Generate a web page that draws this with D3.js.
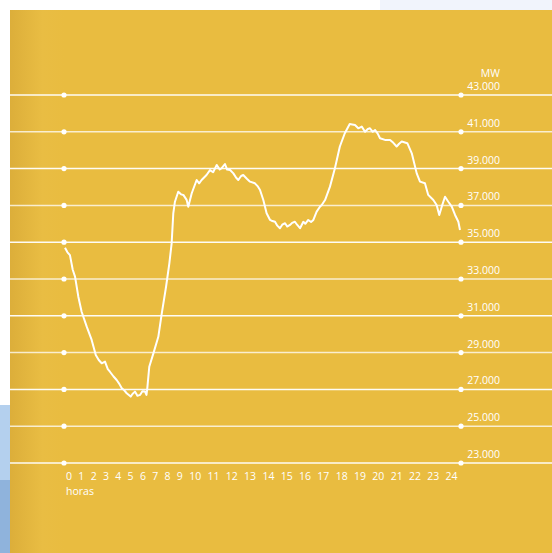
<!DOCTYPE html>
<html>
<head>
<meta charset="utf-8">
<script src="https://cdn.jsdelivr.net/npm/d3@7"></script>
<style>
  body { margin: 0; background: #fff; }
  text { font-family: "Open Sans", sans-serif; fill: #fff; }
</style>
</head>
<body>
<div id="chart"></div>
<script>
// demand curve (hour of day, MW)
var hours = [0, 0.15, 0.3, 0.47, 0.61, 0.81, 1.01, 1.32, 1.62, 1.87, 2.05, 2.23, 2.43, 2.6, 2.73, 2.95,
  3.14, 3.3, 3.45, 3.6, 3.75, 3.99, 4.1, 4.25, 4.4, 4.56, 4.7, 4.86, 4.95, 5.0, 5.12, 5.37, 5.67, 5.88,
  6.14, 6.34, 6.48, 6.58, 6.68, 6.88, 7.05, 7.19, 7.39, 7.49, 7.7, 8.0, 8.15, 8.3, 8.6, 8.81, 9.0, 9.22,
  9.4, 9.52, 9.72, 9.85, 10.03, 10.23, 10.4, 10.53, 10.7, 10.83, 11.05, 11.24, 11.54, 11.7, 11.85, 12.05,
  12.25, 12.46, 12.6, 12.76, 12.9, 13.06, 13.2, 13.37, 13.5, 13.67, 13.8, 13.97, 14.1, 14.28, 14.48, 14.6,
  14.78, 14.95, 15.09, 15.29, 15.49, 15.6, 15.8, 16.1, 16.4, 16.7, 17.0, 17.3, 17.45, 17.62, 17.82, 18.03,
  18.23, 18.4, 18.53, 18.7, 18.84, 19.0, 19.14, 19.44, 19.75, 19.95, 20.15, 20.3, 20.46, 20.8, 21.07, 21.37,
  21.57, 21.87, 22.07, 22.38, 22.58, 22.74, 22.89, 23.09, 23.29, 23.5, 23.7, 23.9, 24.0];
var demand = [34700, 34450, 34300, 33500, 33130, 32040, 31220, 30410, 29690, 28870, 28600, 28420, 28510, 28100, 27960, 27700,
  27510, 27300, 27060, 26950, 26790, 26610, 26750, 26880, 26650, 26700, 26900, 26880, 26700, 27060, 28230, 28960, 29860, 31130,
  32580, 33850, 34940, 36570, 37200, 37740, 37600, 37570, 37300, 36930, 37660, 38380, 38200, 38380, 38650, 38920, 38800, 39200,
  38950, 39020, 39250, 38950, 38920, 38740, 38500, 38380, 38600, 38650, 38450, 38290, 38200, 38050, 37840, 37290,
  36570, 36210, 36150, 36110, 35900, 35760, 35950, 36030, 35850, 35940, 36050, 36110, 35950, 35760, 36110, 36000,
  36210, 36100, 36210, 36660, 36930, 37020, 37290, 38020, 39020, 40200, 40920, 41420, 41400, 41370, 41190, 41280,
  41000, 41150, 41190, 41000, 41100, 40900, 40650, 40560, 40560, 40400, 40200, 40350, 40470, 40380, 39830, 38740,
  38290, 38200, 37570, 37290, 37020, 36480, 36930, 37470, 37200, 36930, 36480, 36110, 35660];

var yTicks = [23000, 25000, 27000, 29000, 31000, 33000, 35000, 37000, 39000, 41000, 43000];
var hourLabels = d3.range(0, 25).map(String);
var unitLabel = "MW";
var xTitle = "horas";

var width = 552, height = 553;

var svg = d3.select("#chart").append("svg")
  .attr("width", width)
  .attr("height", height);

var defs = svg.append("defs");
var edge = defs.append("linearGradient").attr("id", "edge");
edge.append("stop").attr("offset", "0").attr("stop-color", "#dcae3a");
edge.append("stop").attr("offset", "0.06").attr("stop-color", "#e9bd43");
edge.append("stop").attr("offset", "0.1").attr("stop-color", "#e9bc40");
edge.append("stop").attr("offset", "1").attr("stop-color", "#e9bc40");

// backdrop strips (page behind the panel)
svg.append("rect").attr("x", 0).attr("y", 405).attr("width", 10).attr("height", 75).attr("fill", "#b4d0ee");
svg.append("rect").attr("x", 0).attr("y", 480).attr("width", 10).attr("height", 73).attr("fill", "#8fb3dc");
svg.append("rect").attr("x", 380).attr("y", 0).attr("width", 172).attr("height", 10).attr("fill", "#f1f4fc");

// yellow panel
svg.append("rect")
  .attr("x", 10).attr("y", 10)
  .attr("width", width - 10).attr("height", height - 10)
  .attr("fill", "url(#edge)");

var x = d3.scaleLinear().domain([0, 24]).range([65, 460]);
var y = d3.scaleLinear().domain([23000, 43000]).range([463, 95]);

// horizontal grid lines
svg.append("g")
  .selectAll("line")
  .data(yTicks)
  .join("line")
  .attr("x1", 10).attr("x2", width)
  .attr("y1", d => y(d)).attr("y2", d => y(d))
  .attr("stroke", "#fff")
  .attr("stroke-opacity", (d, i) => i % 2 ? 0.75 : 0.95)
  .attr("stroke-width", 1.5);

// dots at both ends
[0, 24].forEach(function (h, k) {
  svg.append("g")
    .selectAll("circle")
    .data(yTicks)
    .join("circle")
    .attr("cx", x(h) + (k ? 1 : -1))
    .attr("cy", d => y(d))
    .attr("r", 2.6)
    .attr("fill", "#fff");
});

// right labels
var fmt = d => d3.format(",")(d).replace(",", ".");
svg.append("g")
  .selectAll("text")
  .data(yTicks)
  .join("text")
  .attr("x", 500)
  .attr("y", d => y(d) - 5)
  .attr("text-anchor", "end")
  .style("font-size", "10.5px")
  .text(fmt);

svg.append("text")
  .attr("x", 500).attr("y", 77)
  .attr("text-anchor", "end")
  .style("font-size", "10.5px")
  .text(unitLabel);

// hour labels laid out like running text
var gap = 6.3, cursor = 66;
var hourG = svg.append("g");
hourLabels.forEach(function (t) {
  var node = hourG.append("text")
    .attr("x", cursor).attr("y", 480)
    .style("font-size", "10.5px")
    .text(t);
  cursor += node.node().getComputedTextLength() + gap;
});

svg.append("text")
  .attr("x", 66).attr("y", 495)
  .style("font-size", "10.5px")
  .text(xTitle);

// the demand line
var line = d3.line()
  .x((d, i) => x(hours[i]))
  .y(d => y(d));

svg.append("path")
  .datum(demand)
  .attr("fill", "none")
  .attr("stroke", "#fff")
  .attr("stroke-width", 2)
  .attr("stroke-linejoin", "round")
  .attr("d", line);
</script>
</body>
</html>
